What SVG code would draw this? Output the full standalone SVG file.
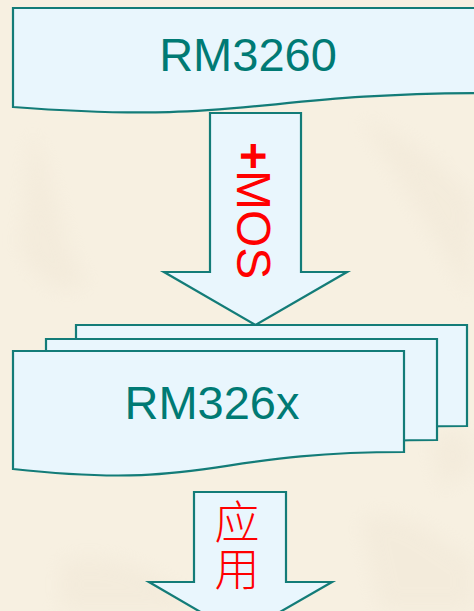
<svg xmlns="http://www.w3.org/2000/svg" width="474" height="611" viewBox="0 0 474 611">
  <defs>
    <style>
      .box { fill: #E9F6FD; stroke: #137C78; stroke-width: 2.2; stroke-linejoin: miter; }
      .arrow { fill: #E9F6FD; stroke: #137C78; stroke-width: 2.2; stroke-linejoin: miter; }
      .label { font-family: "Liberation Sans", Arial, sans-serif; font-size: 47px; fill: #007A74; text-anchor: middle; }
      .red { font-family: "Liberation Sans", Arial, sans-serif; font-size: 48px; fill: #FF0000; }
      .cjk { font-family: "Noto Sans CJK SC", sans-serif; font-size: 45px; font-weight: 300; fill: #FF0000; writing-mode: vertical-rl; letter-spacing: 2px; }
    </style>
    <filter id="blur" x="-50%" y="-50%" width="200%" height="200%">
      <feGaussianBlur stdDeviation="10"/>
    </filter>
    <path id="doc" d="M0,0 H391 V101 C195.5,101 195.5,139.5 0,118 Z"/>
  </defs>

  <!-- background -->
  <rect x="0" y="0" width="474" height="611" fill="#F7F0E1"/>
  <g filter="url(#blur)" opacity="0.35" fill="#EDE3D2">
    <path d="M30,130 C60,180 60,260 90,280 C70,300 40,290 20,250 Z"/>
    <path d="M360,120 C400,180 430,230 470,300 L474,200 C440,160 400,130 360,120 Z"/>
    <path d="M60,560 C120,550 160,570 200,611 L60,611 Z"/>
    <path d="M360,520 C400,500 440,540 474,560 L474,611 L380,611 Z"/>
    <path d="M430,440 C460,420 474,430 474,470 L440,490 Z"/>
  </g>

  <!-- connectors -->
  <g id="connectors">
    <polygon class="arrow" points="210,113 301,113 301,272 347,272 255.5,325 164,272 210,272"/>
    <polygon class="arrow" points="194,492 286,492 286,582 332,582 240,635 149,582 194,582"/>
  </g>

  <!-- node: RM3260 -->
  <g id="node-rm3260">
    <path class="box" d="M13,8 H490 V93 C251,93 251,125 13,107 Z"/>
    <text class="label" x="248" y="71">RM3260</text>
  </g>

  <!-- connector label -->
  <g id="label-mos">
    <text class="red" transform="translate(237,142) rotate(90)"><tspan font-weight="bold">+</tspan>MOS</text>
  </g>

  <!-- node: RM326x stack -->
  <g id="node-rm326x">
    <use href="#doc" class="box" transform="translate(76,325)"/>
    <use href="#doc" class="box" transform="translate(46,339)"/>
    <use href="#doc" class="box" transform="translate(13,351)"/>
    <text class="label" x="212" y="419">RM326x</text>
  </g>

  <g id="label-app">
    <text class="cjk" x="237" y="499">应用</text>
  </g>
</svg>
